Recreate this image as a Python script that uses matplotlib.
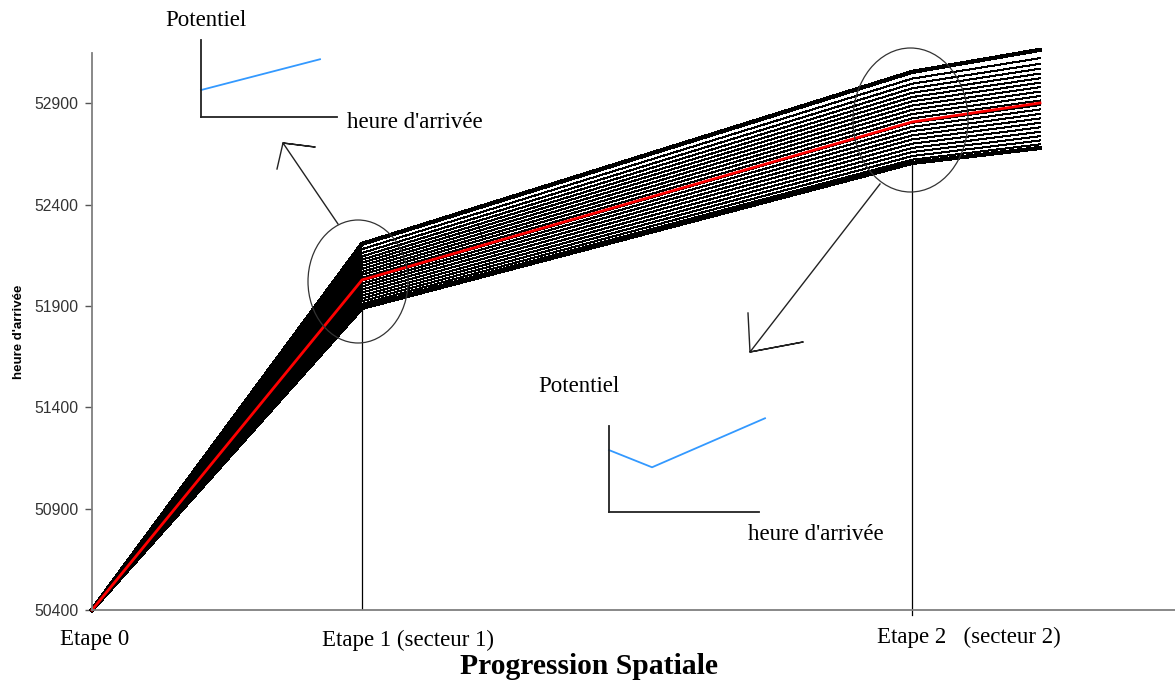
#!/usr/bin/env python3

# ========================================================================
#
# Imports
#
# ========================================================================
import matplotlib

matplotlib.use("Agg")
import matplotlib.pyplot as plt
from matplotlib.lines import Line2D
from matplotlib.patches import Ellipse


# ========================================================================
#
# Data
#
# ========================================================================
# position of each stage along the route (Etape 0, 1, 2, end of sector 2)
stage_x = [0, 270, 820, 948]
start_time = 50400

# arrival times of each simulated trajectory (bottom to top)
times_etape1 = [
    51890, 51899, 51910, 51923, 51937, 51951, 51966, 51981, 51996, 52010, 52024,
    52039, 52054, 52068, 52083, 52098, 52113, 52128, 52144, 52161, 52180, 52206,
]
times_etape2 = [
    52605, 52621, 52639, 52659, 52679, 52700, 52721, 52741, 52762, 52783, 52803,
    52825, 52846, 52867, 52888, 52909, 52930, 52951, 52973, 52996, 53021, 53054,
]
times_end = [
    52679, 52697, 52716, 52737, 52759, 52781, 52803, 52825, 52847, 52869, 52891,
    52913, 52935, 52957, 52979, 53001, 53023, 53046, 53070, 53094, 53122, 53163,
]
# reference trajectory (red)
times_ref = [50400, 52028, 52807, 52901]

yticks = [50400, 50900, 51400, 51900, 52400, 52900]
stage_labels = ["Etape 0", "Etape 1 (secteur 1)", "Etape 2   (secteur 2)"]

# schematic potential curves of the two insets
heure_in1 = [0.0, 0.875]
pot_in1 = [0.35, 0.75]
heure_in2 = [0.0, 0.287, 1.04]
pot_in2 = [0.72, 0.52, 1.09]


# ========================================================================
#
# Plot
#
# ========================================================================
W, H = 1175, 688
serif = "Liberation Serif"
sans = "Liberation Sans"
blue = "#3399ff"


def fx(x):
    return x / W


def fy(y):
    return 1 - y / H


fig = plt.figure(figsize=(W / 100, H / 100), dpi=100)
ax = fig.add_axes([fx(92), fy(610), (W - 92) / W, (610 - 53.3) / H])

# trajectories
n = len(times_etape1)
for i in range(n):
    lw = 2.3 if i in (0, n - 1) else 0.72
    ax.plot(
        stage_x,
        [start_time, times_etape1[i], times_etape2[i], times_end[i]],
        color="black",
        lw=lw,
        clip_on=False,
        antialiased=False,
    )
ax.plot(stage_x, times_ref, color="red", lw=2, clip_on=False)

# stage markers
ax.plot([stage_x[1]] * 2, [start_time, times_etape1[0]], color="black", lw=0.9)
ax.plot(
    [stage_x[2]] * 2, [start_time - 25, times_etape2[0]], color="black", lw=0.9,
    clip_on=False,
)

ax.set_xlim(0, W - 92)
ax.set_ylim(start_time, 53146)
ax.set_xticks([])
ax.set_yticks(yticks)
ax.set_yticklabels([str(t) for t in yticks], fontsize=11.3, family=sans, color="#333333")
ax.tick_params(axis="y", length=5, width=1, color="#555555", pad=5)
for s in ["top", "right"]:
    ax.spines[s].set_visible(False)
for s in ["left", "bottom"]:
    ax.spines[s].set_color("#7f7f7f")
    ax.spines[s].set_linewidth(1.3)
ax.set_ylabel("heure d'arrivée", fontsize=9.5, fontweight="bold", family=sans)
ax.yaxis.set_label_coords(-0.0615, 0.5)

# stage labels
label_px = [(60, 640), (322, 640), (877, 637)]
for lab, (px, py) in zip(stage_labels, label_px):
    fig.text(fx(px), fy(py), lab, family=serif, fontsize=16.5, ha="left", va="center")
fig.text(
    fx(589), fy(667), "Progression Spatiale", family=serif, fontsize=21.3,
    fontweight="bold", ha="center", va="center",
)

# ellipses around the stages
fig.add_artist(
    Ellipse((fx(358), fy(281.5)), 100 / W, 123 / H, transform=fig.transFigure,
            fill=False, ec="#333333", lw=0.9)
)
fig.add_artist(
    Ellipse((fx(910.5), fy(120)), 115 / W, 144 / H, transform=fig.transFigure,
            fill=False, ec="#333333", lw=0.9)
)

# hand drawn arrows
arrows = [
    [(338, 224), (283, 143), (315, 147), (283, 143), (277, 169)],
    [(880, 184), (750, 352), (803, 342), (750, 352), (748, 313)],
]
for pts in arrows:
    fig.add_artist(
        Line2D([fx(p[0]) for p in pts], [fy(p[1]) for p in pts],
               transform=fig.transFigure, color="#222222", lw=1)
    )

# insets
insets = [
    ([201, 117, 136, 77], heure_in1, pot_in1, (165, 20), (347, 123)),
    ([609, 512, 150, 86], heure_in2, pot_in2, (538, 387), (748, 535)),
]
for (x0, y0, w, h), hx, py_, pot_pos, heure_pos in insets:
    axi = fig.add_axes([fx(x0), fy(y0), w / W, h / H])
    axi.patch.set_visible(False)
    axi.plot(hx, py_, color=blue, lw=1.3, clip_on=False)
    axi.set_xlim(0, 1)
    axi.set_ylim(0, 1)
    axi.set_xticks([])
    axi.set_yticks([])
    for s in ["top", "right"]:
        axi.spines[s].set_visible(False)
    for s in ["left", "bottom"]:
        axi.spines[s].set_color("#222222")
        axi.spines[s].set_linewidth(1.3)
    fig.text(fx(pot_pos[0]), fy(pot_pos[1]), "Potentiel", family=serif,
             fontsize=16.5, ha="left", va="center")
    fig.text(fx(heure_pos[0]), fy(heure_pos[1]), "heure d'arrivée", family=serif,
             fontsize=16.5, ha="left", va="center")

fig.savefig("out.png", dpi=100)
